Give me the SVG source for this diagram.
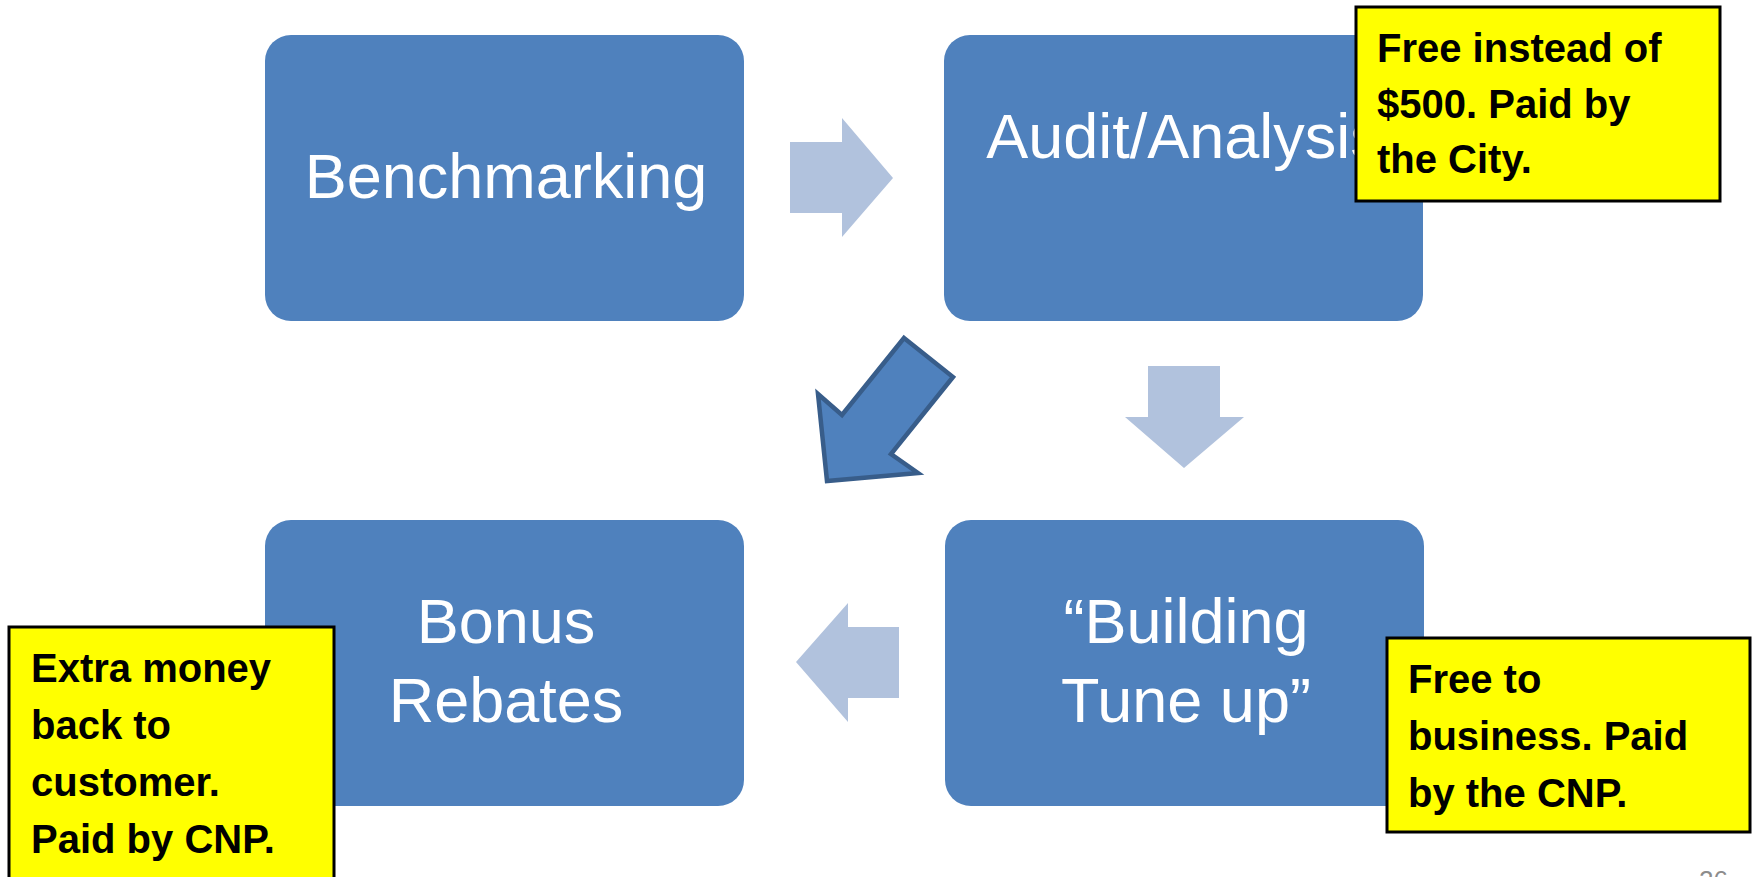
<svg xmlns="http://www.w3.org/2000/svg" width="1754" height="877" viewBox="0 0 1754 877">
<style>
.box{fill:#4f81bd;}
.lbl{font-family:"Liberation Sans",Arial,sans-serif;font-size:63px;fill:#ffffff;text-anchor:middle;}
.note{fill:#ffff00;stroke:#000000;stroke-width:3;}
.nt{font-family:"Liberation Sans",Arial,sans-serif;font-size:40px;font-weight:bold;fill:#000000;}
.la{fill:#b1c2dd;}
</style>
<rect width="1754" height="877" fill="#ffffff"/>
<g id="connectors">
<polygon class="la" points="790,142 842,142 842,118 893,178 842,237 842,213 790,213"/>
<polygon class="la" points="1148,366 1220,366 1220,417 1244,417 1184,468 1125,417 1148,417"/>
<polygon class="la" points="899,627 848,627 848,603 796,662 848,722 848,698 899,698"/>
<polygon points="904,338 953,377 891,454 918,473 827,481 818,394 842,415" fill="#4f81bd" stroke="#385d8a" stroke-width="4.5" stroke-linejoin="miter"/>
</g>
<g id="benchmarking">
<rect class="box" x="265" y="35" width="479" height="286" rx="26"/>
<text class="lbl" x="506" y="198">Benchmarking</text>
</g>
<g id="audit">
<rect class="box" x="944" y="35" width="479" height="286" rx="26"/>
<text class="lbl" x="1184" y="158">Audit/Analysis</text>
</g>
<g id="bonus">
<rect class="box" x="265" y="520" width="479" height="286" rx="26"/>
<text class="lbl" x="506" y="643">Bonus</text>
<text class="lbl" x="506" y="722">Rebates</text>
</g>
<g id="tuneup">
<rect class="box" x="945" y="520" width="479" height="286" rx="26"/>
<text class="lbl" x="1186" y="643">“Building</text>
<text class="lbl" x="1186" y="722">Tune up”</text>
</g>
<g id="note-audit">
<rect class="note" x="1356" y="7" width="364" height="194"/>
<text class="nt" x="1377" y="62">Free instead of</text>
<text class="nt" x="1377" y="118">$500. Paid by</text>
<text class="nt" x="1377" y="173">the City.</text>
</g>
<g id="note-tuneup">
<rect class="note" x="1387" y="638" width="363" height="194"/>
<text class="nt" x="1408" y="693">Free to</text>
<text class="nt" x="1408" y="750">business. Paid</text>
<text class="nt" x="1408" y="807">by the CNP.</text>
</g>
<g id="note-bonus">
<rect class="note" x="9" y="627" width="325" height="270"/>
<text class="nt" x="31" y="682">Extra money</text>
<text class="nt" x="31" y="739">back to</text>
<text class="nt" x="31" y="796">customer.</text>
<text class="nt" x="31" y="853">Paid by CNP.</text>
</g>
<text x="1699" y="889" font-family="Liberation Sans,Arial,sans-serif" font-size="26" fill="#8c8c8c">26</text>
</svg>
